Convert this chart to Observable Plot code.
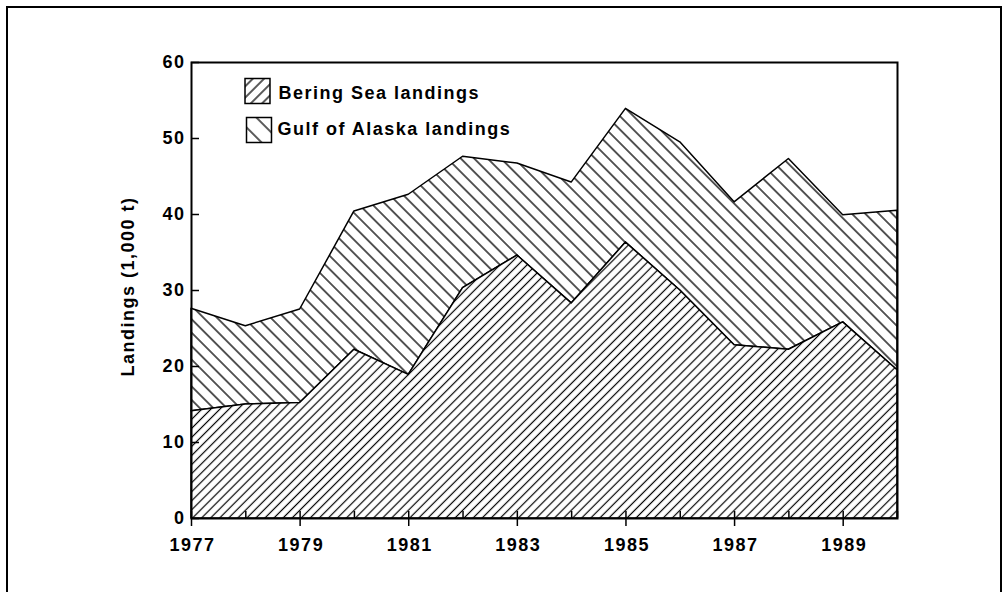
<!DOCTYPE html>
<html><head><meta charset="utf-8">
<script src="https://cdn.jsdelivr.net/npm/d3@7"></script>
<script src="https://cdn.jsdelivr.net/npm/@observablehq/plot@0.6"></script>
<style>
html,body{margin:0;padding:0;background:#fff;overflow:hidden;}
#wrap{position:relative;width:1008px;height:592px;}
#border{position:absolute;left:6px;top:6px;width:996px;height:640px;border:2px solid #000;box-sizing:border-box;}
#chart{position:absolute;left:0;top:0;}
</style></head><body>
<div id="wrap"><div id="border"></div><div id="chart"></div></div>
<script>
const years = [1977,1978,1979,1980,1981,1982,1983,1984,1985,1986,1987,1988,1989,1990];
const beringSea = [14.1,15.0,15.2,22.2,18.9,30.3,34.6,28.3,36.3,30.0,22.8,22.2,25.8,19.5];
const totalLandings = [27.6,25.3,27.5,40.4,42.6,47.6,46.7,44.2,53.9,49.5,41.6,47.3,39.9,40.5];
const yTicks = [0,10,20,30,40,50,60];
const xLabelYears = [1977,1979,1981,1983,1985,1987,1989];
const seriesNames = ["Bering Sea landings","Gulf of Alaska landings"];
const yTitle = "Landings (1,000 t)";

const rows = years.map((year,i)=>({year, bering: beringSea[i], total: totalLandings[i]}));

const W = 1008, H = 592, ML = 191, MR = 111, MT = 62, MB = 74;
const FW = W - ML - MR, FH = H - MT - MB;
const font = "'Liberation Sans', Arial, Helvetica, sans-serif";
const fs = 18;

const chart = Plot.plot({
  width: W, height: H,
  marginLeft: ML, marginRight: MR, marginTop: MT, marginBottom: MB,
  style: {fontFamily: font, fontWeight: "bold", fontSize: "18px", letterSpacing: "1.5px", background: "transparent", color: "black"},
  x: {type: "linear", domain: [1977, 1990], axis: null},
  y: {domain: [0, 60], axis: null},
  marks: [
    Plot.areaY(rows, {x: "year", y1: "bering", y2: "total", fill: "url(#hGulf)", stroke: "black", strokeWidth: 1.5}),
    Plot.areaY(rows, {x: "year", y1: 0, y2: "bering", fill: "url(#hBering)", stroke: "black", strokeWidth: 1.5}),
    Plot.frame({stroke: "black", strokeWidth: 2}),
    Plot.tickY(yTicks, {y: d => d, insetRight: FW - 8, strokeWidth: 1.5}),
    Plot.text(yTicks, {y: d => d, frameAnchor: "left", dx: -6, textAnchor: "end", fontSize: fs, fontWeight: "bold"}),
    Plot.tickX(years, {x: d => d, insetTop: FH - 7, strokeWidth: 1.5}),
    Plot.tickX(xLabelYears, {x: d => d, insetTop: FH, insetBottom: -8, strokeWidth: 1.5}),
    Plot.text(xLabelYears, {x: d => d, text: d => String(d), frameAnchor: "bottom", dx: 1, dy: 20, lineAnchor: "top", fontSize: fs, fontWeight: "bold"}),
    Plot.text([yTitle], {frameAnchor: "left", dx: -63, dy: -4, rotate: -90, textAnchor: "middle", lineAnchor: "middle", fontSize: fs, fontWeight: "bold"}),
    Plot.dot([seriesNames[0]], {frameAnchor: "top-left", dx: 66, dy: 28.5, symbol: "square", r: 14.1, fill: "url(#lBering)", stroke: "black", strokeWidth: 1.5}),
    Plot.dot([seriesNames[1]], {frameAnchor: "top-left", dx: 67.5, dy: 67.5, symbol: "square", r: 14.1, fill: "url(#lGulf)", stroke: "black", strokeWidth: 1.5}),
    Plot.text([seriesNames[0]], {frameAnchor: "top-left", dx: 87, dy: 31, textAnchor: "start", lineAnchor: "middle", fontSize: fs, fontWeight: "bold"}),
    Plot.text([seriesNames[1]], {frameAnchor: "top-left", dx: 86, dy: 67, textAnchor: "start", lineAnchor: "middle", fontSize: fs, fontWeight: "bold"})
  ]
});

const defs = d3.select(chart).insert("defs", ":first-child");
function hatch(id, spacing, angle, sw) {
  const p = defs.append("pattern").attr("id", id).attr("patternUnits","userSpaceOnUse")
    .attr("width", spacing).attr("height", spacing).attr("patternTransform", `rotate(${angle})`);
  p.append("rect").attr("width",spacing).attr("height",spacing).attr("fill","white");
  p.append("line").attr("x1",spacing/2).attr("x2",spacing/2).attr("y1",-1).attr("y2",spacing+1)
    .attr("stroke","black").attr("stroke-width",sw);
}
hatch("hBering", 6.4, 45, 1.2);
hatch("hGulf", 9.5, -45, 1.3);
hatch("lBering", 8, 45, 1.3);
hatch("lGulf", 14, -45, 1.3);

document.getElementById("chart").appendChild(chart);
</script>
</body></html>
